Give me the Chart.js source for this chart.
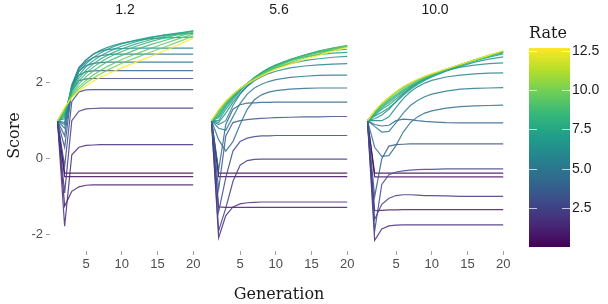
<!DOCTYPE html>
<html>
<head>
<meta charset="utf-8">
<script src="https://cdn.jsdelivr.net/npm/chart.js@4.4.1/dist/chart.umd.min.js"></script>
<style>
  body { margin: 0; background: #fff; width: 608px; height: 304px; position: relative; overflow: hidden; }
  canvas { position: absolute; top: 0; }
</style>
</head>
<body>
<canvas id="p1" width="210" height="304" style="left:0px"></canvas>
<canvas id="p2" width="170" height="304" style="left:194px"></canvas>
<canvas id="p3" width="170" height="304" style="left:350px"></canvas>
<canvas id="bar" width="88" height="304" style="left:520px"></canvas>
<script>
// facets and shared axes
var facets = ['1.2', '5.6', '10.0'];
var generations = [1, 2, 3, 4, 5, 6, 7, 8, 9, 10, 12, 14, 16, 18, 20];
var rates = [0.0, 0.5, 1.0, 1.6, 2.2, 2.8, 3.4, 4.0, 4.6, 5.2, 5.8, 6.3, 6.8, 7.3, 7.8, 8.3, 8.8, 9.3, 9.9, 12.7];
var xTicks = [5, 10, 15, 20];
var yTicks = [-2, 0, 2];
var rateTicks = [2.5, 5.0, 7.5, 10.0, 12.5];

// one row per rate (same order as rates), one value per generation
var scores12 = [
  [1, -0.38, -0.38, -0.38, -0.38, -0.38, -0.38, -0.38, -0.38, -0.38, -0.38, -0.38, -0.38, -0.38, -0.38],
  [1, -0.47, -0.47, -0.47, -0.47, -0.47, -0.47, -0.47, -0.47, -0.47, -0.47, -0.47, -0.47, -0.47, -0.47],
  [1, -1.25, -0.86, -0.74, -0.70, -0.69, -0.69, -0.69, -0.69, -0.69, -0.69, -0.69, -0.69, -0.69, -0.69],
  [1, -1.78, 0.10, 0.30, 0.35, 0.36, 0.37, 0.37, 0.37, 0.37, 0.37, 0.37, 0.37, 0.37, 0.37],
  [1, -0.90, 1.00, 1.25, 1.31, 1.32, 1.33, 1.33, 1.33, 1.33, 1.33, 1.33, 1.33, 1.33, 1.33],
  [1, -0.20, 1.50, 1.76, 1.81, 1.82, 1.82, 1.82, 1.82, 1.82, 1.82, 1.82, 1.82, 1.82, 1.82],
  [1, 0.30, 1.80, 2.05, 2.10, 2.11, 2.11, 2.11, 2.11, 2.11, 2.11, 2.11, 2.11, 2.11, 2.11],
  [1, 0.60, 1.85, 2.20, 2.29, 2.31, 2.32, 2.32, 2.32, 2.32, 2.32, 2.32, 2.32, 2.32, 2.32],
  [1, 0.80, 1.85, 2.30, 2.45, 2.51, 2.53, 2.54, 2.54, 2.54, 2.54, 2.54, 2.54, 2.54, 2.54],
  [1, 0.90, 1.90, 2.35, 2.55, 2.66, 2.71, 2.74, 2.75, 2.75, 2.75, 2.75, 2.75, 2.75, 2.75],
  [1, 0.95, 1.90, 2.40, 2.60, 2.75, 2.83, 2.87, 2.89, 2.90, 2.91, 2.91, 2.91, 2.91, 2.91],
  [1, 1.05, 1.95, 2.40, 2.60, 2.75, 2.85, 2.93, 2.99, 3.04, 3.11, 3.16, 3.18, 3.19, 3.20],
  [1, 1.10, 1.90, 2.30, 2.50, 2.66, 2.78, 2.88, 2.96, 3.02, 3.12, 3.20, 3.25, 3.28, 3.30],
  [1, 1.15, 1.85, 2.20, 2.42, 2.58, 2.70, 2.80, 2.89, 2.96, 3.08, 3.18, 3.26, 3.31, 3.35],
  [1, 1.20, 1.80, 2.12, 2.33, 2.49, 2.62, 2.72, 2.81, 2.89, 3.02, 3.13, 3.22, 3.30, 3.37],
  [1, 1.22, 1.75, 2.05, 2.25, 2.41, 2.54, 2.65, 2.74, 2.82, 2.96, 3.08, 3.18, 3.27, 3.36],
  [1, 1.26, 1.70, 1.97, 2.16, 2.31, 2.44, 2.55, 2.64, 2.72, 2.87, 3.00, 3.11, 3.22, 3.33],
  [1, 1.30, 1.66, 1.89, 2.06, 2.20, 2.32, 2.43, 2.52, 2.61, 2.76, 2.90, 3.03, 3.16, 3.28],
  [1, 1.32, 1.63, 1.83, 1.99, 2.12, 2.23, 2.33, 2.42, 2.51, 2.66, 2.80, 2.94, 3.08, 3.23],
  [1, 1.35, 1.60, 1.78, 1.92, 2.04, 2.14, 2.23, 2.31, 2.39, 2.54, 2.69, 2.84, 3.00, 3.18]
];

var scores56 = [
  [1, -0.38, -0.38, -0.38, -0.38, -0.38, -0.38, -0.38, -0.38, -0.38, -0.38, -0.38, -0.38, -0.38, -0.38],
  [1, -0.47, -0.47, -0.47, -0.47, -0.47, -0.47, -0.47, -0.47, -0.47, -0.47, -0.47, -0.47, -0.47, -0.47],
  [1, -1.27, -1.28, -1.28, -1.28, -1.28, -1.28, -1.28, -1.28, -1.28, -1.28, -1.28, -1.28, -1.28, -1.28],
  [1, -2.08, -1.50, -1.27, -1.19, -1.16, -1.15, -1.14, -1.14, -1.14, -1.14, -1.14, -1.14, -1.14, -1.14],
  [1, -1.90, -1.30, -0.60, -0.17, -0.05, -0.02, -0.01, -0.01, -0.01, -0.01, -0.01, -0.01, -0.01, -0.01],
  [1, -1.40, -0.50, 0.20, 0.45, 0.54, 0.58, 0.60, 0.60, 0.61, 0.61, 0.61, 0.61, 0.61, 0.61],
  [1, -0.80, 0.60, 0.95, 1.00, 1.03, 1.05, 1.06, 1.07, 1.08, 1.09, 1.10, 1.10, 1.11, 1.11],
  [1, -0.30, 0.90, 1.30, 1.42, 1.46, 1.47, 1.48, 1.48, 1.49, 1.49, 1.49, 1.49, 1.49, 1.49],
  [1, 0.50, 0.20, 0.45, 0.90, 1.30, 1.55, 1.68, 1.75, 1.79, 1.83, 1.85, 1.86, 1.86, 1.86],
  [1, 0.80, 0.75, 1.10, 1.45, 1.70, 1.86, 1.96, 2.03, 2.08, 2.14, 2.17, 2.19, 2.20, 2.20],
  [1, 0.90, 1.00, 1.40, 1.70, 1.90, 2.05, 2.16, 2.24, 2.30, 2.39, 2.44, 2.47, 2.49, 2.50],
  [1, 0.95, 1.20, 1.48, 1.72, 1.92, 2.08, 2.21, 2.31, 2.39, 2.50, 2.58, 2.63, 2.67, 2.69],
  [1, 1.00, 1.30, 1.55, 1.78, 1.97, 2.13, 2.26, 2.37, 2.46, 2.59, 2.68, 2.74, 2.78, 2.80],
  [1, 1.08, 1.36, 1.60, 1.80, 1.98, 2.14, 2.27, 2.38, 2.47, 2.61, 2.72, 2.80, 2.85, 2.88],
  [1, 1.12, 1.40, 1.62, 1.81, 1.98, 2.13, 2.26, 2.37, 2.46, 2.61, 2.73, 2.82, 2.89, 2.94],
  [1, 1.16, 1.43, 1.64, 1.82, 1.98, 2.12, 2.25, 2.35, 2.45, 2.60, 2.73, 2.83, 2.91, 2.97],
  [1, 1.20, 1.46, 1.66, 1.83, 1.98, 2.12, 2.24, 2.34, 2.43, 2.59, 2.72, 2.83, 2.91, 2.98],
  [1, 1.24, 1.48, 1.68, 1.84, 1.98, 2.11, 2.22, 2.32, 2.41, 2.56, 2.69, 2.80, 2.89, 2.97],
  [1, 1.27, 1.50, 1.69, 1.85, 1.98, 2.10, 2.20, 2.30, 2.38, 2.52, 2.65, 2.76, 2.86, 2.95],
  [1, 1.30, 1.52, 1.70, 1.85, 1.97, 2.08, 2.18, 2.27, 2.35, 2.49, 2.61, 2.72, 2.83, 2.93]
];

var scores100 = [
  [1, -0.38, -0.38, -0.38, -0.38, -0.38, -0.38, -0.38, -0.38, -0.38, -0.38, -0.38, -0.38, -0.38, -0.38],
  [1, -0.48, -0.48, -0.48, -0.48, -0.48, -0.48, -0.48, -0.48, -0.48, -0.48, -0.48, -0.48, -0.48, -0.48],
  [1, -1.37, -1.36, -1.35, -1.35, -1.34, -1.34, -1.34, -1.34, -1.34, -1.34, -1.34, -1.34, -1.34, -1.34],
  [1, -2.15, -1.85, -1.77, -1.75, -1.74, -1.74, -1.74, -1.74, -1.74, -1.74, -1.74, -1.74, -1.74, -1.74],
  [1, -1.60, -1.20, -1.04, -0.97, -0.95, -0.95, -0.96, -0.97, -0.97, -0.98, -0.99, -0.99, -0.99, -0.99],
  [1, -1.90, -0.68, -0.42, -0.35, -0.32, -0.30, -0.29, -0.28, -0.28, -0.27, -0.27, -0.27, -0.27, -0.27],
  [1, -1.00, 0.00, 0.33, 0.37, 0.38, 0.39, 0.39, 0.39, 0.39, 0.39, 0.39, 0.39, 0.39, 0.39],
  [1, 0.90, 0.86, 0.88, 1.00, 1.04, 1.03, 1.00, 0.98, 0.97, 0.95, 0.94, 0.94, 0.94, 0.94],
  [1, 0.30, 0.06, 0.08, 0.35, 0.70, 0.95, 1.10, 1.20, 1.26, 1.33, 1.37, 1.39, 1.40, 1.41],
  [1, 0.85, 0.70, 0.72, 0.95, 1.20, 1.40, 1.53, 1.63, 1.70, 1.78, 1.83, 1.85, 1.86, 1.87],
  [1, 1.00, 1.00, 1.10, 1.35, 1.58, 1.76, 1.89, 1.99, 2.06, 2.15, 2.20, 2.23, 2.25, 2.26],
  [1, 1.05, 1.15, 1.30, 1.50, 1.70, 1.86, 1.99, 2.10, 2.19, 2.32, 2.41, 2.46, 2.50, 2.52],
  [1, 1.12, 1.22, 1.34, 1.50, 1.67, 1.82, 1.95, 2.06, 2.15, 2.30, 2.43, 2.54, 2.62, 2.68],
  [1, 1.15, 1.30, 1.42, 1.57, 1.72, 1.86, 1.98, 2.08, 2.17, 2.32, 2.46, 2.57, 2.67, 2.76],
  [1, 1.18, 1.34, 1.48, 1.62, 1.76, 1.89, 2.00, 2.10, 2.18, 2.33, 2.46, 2.59, 2.69, 2.79],
  [1, 1.20, 1.37, 1.52, 1.66, 1.79, 1.91, 2.02, 2.11, 2.19, 2.34, 2.47, 2.59, 2.70, 2.80],
  [1, 1.22, 1.40, 1.55, 1.69, 1.82, 1.93, 2.03, 2.12, 2.20, 2.34, 2.47, 2.60, 2.71, 2.81],
  [1, 1.24, 1.43, 1.59, 1.74, 1.86, 1.97, 2.06, 2.15, 2.22, 2.35, 2.48, 2.60, 2.72, 2.82],
  [1, 1.25, 1.45, 1.61, 1.76, 1.89, 1.99, 2.08, 2.16, 2.23, 2.36, 2.48, 2.60, 2.72, 2.83],
  [1, 1.26, 1.46, 1.62, 1.77, 1.90, 2.00, 2.09, 2.17, 2.24, 2.36, 2.48, 2.60, 2.72, 2.84]
];

var viridis = ['#440154', '#482878', '#3e4989', '#31688e', '#26828e', '#1f9e89', '#35b779', '#6ece58', '#b5de2b', '#fde725'];
var sans = "'Liberation Sans', Arial, sans-serif";
var serif = "'DejaVu Serif', serif";

function hexToRgb(h) {
    return [parseInt(h.substr(1, 2), 16), parseInt(h.substr(3, 2), 16), parseInt(h.substr(5, 2), 16)];
}

function rateColor(r, alpha) {
    var t = (r - rates[0]) / (rates[rates.length - 1] - rates[0]);
    var p = t * (viridis.length - 1);
    var i = Math.min(Math.floor(p), viridis.length - 2);
    var f = p - i;
    var a = hexToRgb(viridis[i]), b = hexToRgb(viridis[i + 1]);
    var c = a.map(function(v, k) { return Math.round(v + (b[k] - v) * f); });
    return 'rgba(' + c.join(',') + ',' + alpha + ')';
}

// facet label drawn above each panel
var stripTitle = {
    id: 'stripTitle',
    afterDraw: function(chart, args, opts) {
        var ctx = chart.ctx, a = chart.chartArea;
        ctx.save();
        ctx.font = '14px ' + sans;
        ctx.fillStyle = '#1a1a1a';
        ctx.textAlign = 'center';
        ctx.textBaseline = 'middle';
        ctx.fillText(opts.text, (a.left + a.right) / 2, 10);
        ctx.restore();
    }
};

function makePanel(id, facet, scores, first, middle) {
    var datasets = [];
    // highest rate first so the yellow line is painted on top
    for (var i = rates.length - 1; i >= 0; i--) {
        datasets.push({
            label: 'Rate ' + rates[i],
            data: generations.map(function(g, j) { return { x: g, y: scores[i][j] }; }),
            borderColor: rateColor(rates[i], 0.85),
            borderWidth: 1.2,
            pointRadius: 0,
            tension: 0,
            fill: false
        });
    }
    return new Chart(document.getElementById(id), {
        type: 'line',
        data: { datasets: datasets },
        options: {
            responsive: false,
            animation: false,
            events: [],
            layout: { padding: { left: first ? 0 : 10, right: 10, top: 20, bottom: 0 } },
            plugins: {
                legend: { display: false },
                tooltip: { enabled: false },
                stripTitle: { text: facet }
            },
            scales: {
                x: {
                    type: 'linear',
                    min: -0.05,
                    max: 20.95,
                    afterBuildTicks: function(s) { s.ticks = xTicks.map(function(v) { return { value: v }; }); },
                    afterFit: function(s) { s.height = 53; },
                    grid: { drawOnChartArea: false, tickLength: 4, color: '#a0a0a0' },
                    border: { display: false },
                    ticks: { padding: 2, font: { family: sans, size: 13 }, color: '#4d4d4d', maxRotation: 0 },
                    title: {
                        display: middle,
                        text: 'Generation',
                        font: { family: serif, size: 16 },
                        color: '#1a1a1a',
                        padding: { top: 5, bottom: 0 }
                    }
                },
                y: {
                    display: first,
                    min: -2.43,
                    max: 3.65,
                    afterBuildTicks: function(s) { s.ticks = yTicks.map(function(v) { return { value: v }; }); },
                    afterFit: function(s) { s.width = first ? 50 : 0; },
                    grid: { drawOnChartArea: false, tickLength: 4, color: '#a0a0a0' },
                    border: { display: false },
                    ticks: { padding: 3, font: { family: sans, size: 13 }, color: '#4d4d4d' },
                    title: {
                        display: true,
                        text: 'Score',
                        font: { family: serif, size: 16 },
                        color: '#1a1a1a',
                        padding: { top: 5, bottom: 0 }
                    }
                }
            }
        },
        plugins: [stripTitle]
    });
}

document.addEventListener("DOMContentLoaded", function() {
    makePanel('p1', facets[0], scores12, true, false);
    makePanel('p2', facets[1], scores56, false, true);
    makePanel('p3', facets[2], scores100, false, false);

    // colour bar legend
    var gradientBar = {
        id: 'gradientBar',
        beforeDatasetsDraw: function(chart) {
            var ctx = chart.ctx, a = chart.chartArea;
            var g = ctx.createLinearGradient(0, a.bottom, 0, a.top);
            viridis.forEach(function(c, i) { g.addColorStop(i / (viridis.length - 1), c); });
            ctx.save();
            ctx.fillStyle = g;
            ctx.fillRect(a.left, a.top, a.right - a.left, a.bottom - a.top);
            var s = chart.scales.y;
            ctx.strokeStyle = 'rgba(255,255,255,0.7)';
            ctx.lineWidth = 1;
            rateTicks.forEach(function(v) {
                var y = Math.round(s.getPixelForValue(v)) + 0.5;
                ctx.beginPath();
                ctx.moveTo(a.left, y); ctx.lineTo(a.left + 8, y);
                ctx.moveTo(a.right - 8, y); ctx.lineTo(a.right, y);
                ctx.stroke();
            });
            ctx.restore();
        }
    };

    new Chart(document.getElementById('bar'), {
        type: 'bar',
        data: { labels: [''], datasets: [{ data: [] }] },
        options: {
            responsive: false,
            animation: false,
            events: [],
            layout: { padding: { left: 9, right: 0, top: 22, bottom: 57 } },
            plugins: {
                legend: { display: false },
                tooltip: { enabled: false },
                title: {
                    display: true,
                    text: 'Rate',
                    align: 'start',
                    font: { family: serif, size: 16, weight: 'normal' },
                    color: '#1a1a1a',
                    padding: { top: 2, bottom: 4.8 }
                }
            },
            scales: {
                x: { display: false },
                y: {
                    position: 'right',
                    min: rates[0],
                    max: rates[rates.length - 1],
                    afterBuildTicks: function(s) { s.ticks = rateTicks.map(function(v) { return { value: v }; }); },
                    afterFit: function(s) { s.width = 38; },
                    grid: { display: false, drawTicks: false },
                    border: { display: false },
                    ticks: {
                        padding: 2,
                        font: { family: sans, size: 14 },
                        color: '#1a1a1a',
                        callback: function(v) { return v.toFixed(1); }
                    }
                }
            }
        },
        plugins: [gradientBar]
    });
});
</script>
</body>
</html>
